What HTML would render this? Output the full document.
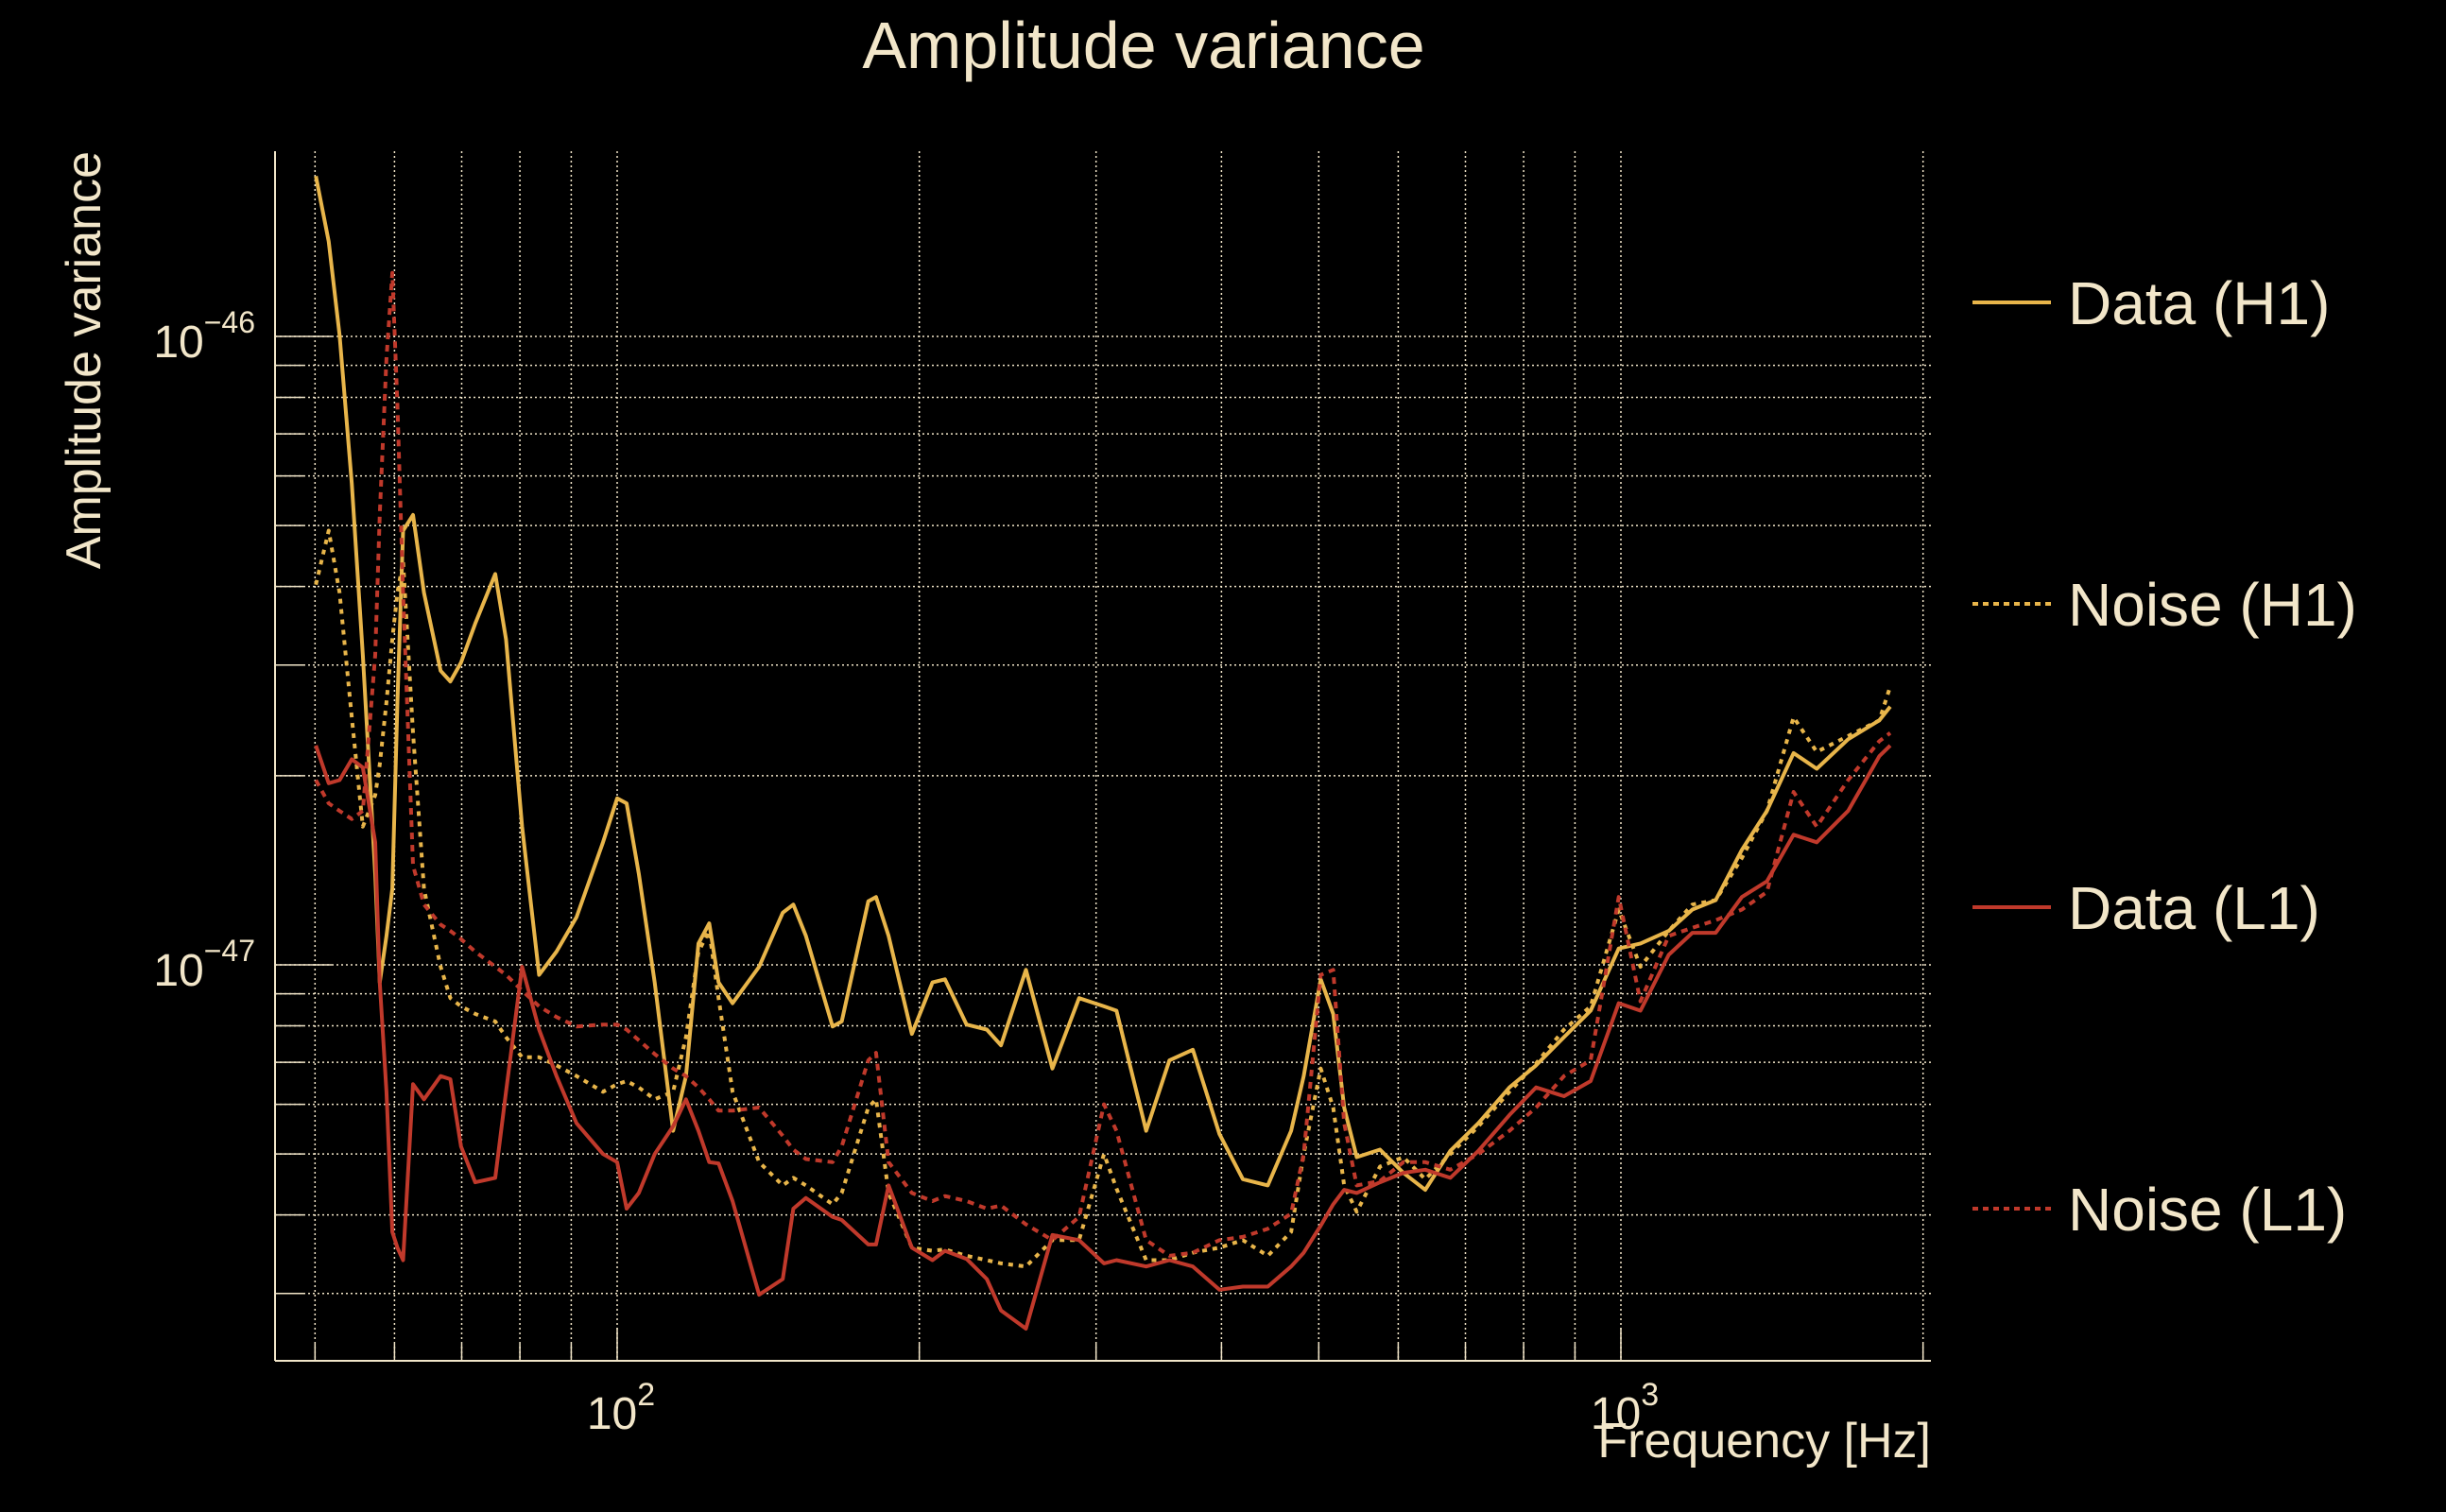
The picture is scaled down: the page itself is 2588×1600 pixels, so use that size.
<!DOCTYPE html>
<html><head><meta charset="utf-8"><style>
html,body{margin:0;padding:0;background:#000;}
svg{display:block;font-family:"Liberation Sans",sans-serif;}
</style></head><body>
<svg id="chart" width="2588" height="1600" viewBox="0 0 2588 1600" xmlns="http://www.w3.org/2000/svg">
<rect width="2588" height="1600" fill="#000"/>
<text x="1210" y="72" font-size="70" fill="#F2E6C9" text-anchor="middle">Amplitude variance</text>
<g id="grid"></g>
<g id="axes"></g>
<g id="series"></g>
<text transform="translate(106,160) rotate(-90)" font-size="52" fill="#F2E6C9" text-anchor="end">Amplitude variance</text>
<text x="2043" y="1542" font-size="52" fill="#F2E6C9" text-anchor="end">Frequency [Hz]</text>
<g id="legend"></g>
</svg>
<script>
// ---- data ----
const freqHz = [50.1,51.6,52.9,54.4,55.8,57.4,58.0,58.9,59.7,60.4,
61.2,62.6,64.2,66.7,68.2,69.9,72.2,75.6,77.5,
80.4,83.6,87.0,91.1,96.8,100,102.2,105.1,109.0,113.7,
117.1,120.5,123.5,126.2,130.3,138.5,146.2,149.8,154.2,163.9,167.4,
177.9,181.1,186.4,196.6,206.1,212.1,222.9,233.5,241.2,255.4,
271.4,288.5,305.5,314.4,336.5,355.0,374.6,398.1,420.1,444.8,
469.3,483.0,502.3,516.9,530.0,545.5,575.4,607.1,638.4,
676.1,721.1,774.5,823.1,877.6,933.0,
995,1046,1116,1178,1243,1320,1398,1486,1567,1684,1809,1855];
// log10 of amplitude variance
const dataH1 = [-45.745,-45.849,-45.998,-46.234,-46.507,-46.855,-47.028,-46.954,-46.879,-46.582,
-46.309,-46.284,-46.408,-46.532,-46.549,-46.519,-46.457,-46.378,-46.482,
-46.780,-47.016,-46.979,-46.924,-46.805,-46.735,-46.743,-46.855,-47.028,-47.264,
-47.177,-46.966,-46.934,-47.028,-47.061,-47.003,-46.917,-46.904,-46.954,-47.098,-47.090,
-46.899,-46.892,-46.954,-47.110,-47.028,-47.023,-47.095,-47.103,-47.128,-47.008,
-47.165,-47.053,-47.066,-47.073,-47.264,-47.152,-47.135,-47.269,-47.341,-47.351,
-47.264,-47.177,-47.023,-47.078,-47.227,-47.306,-47.294,-47.331,-47.358,
-47.296,-47.252,-47.195,-47.160,-47.115,-47.073,
-46.974,-46.966,-46.946,-46.912,-46.897,-46.817,-46.755,-46.663,-46.688,-46.641,-46.611,-46.589];
const noiseH1 = [-46.395,-46.309,-46.408,-46.606,-46.780,-46.730,-46.681,-46.582,-46.482,-46.408,
-46.358,-46.631,-46.879,-47.003,-47.053,-47.066,-47.078,-47.090,-47.115,
-47.147,-47.147,-47.160,-47.177,-47.202,-47.190,-47.185,-47.195,-47.214,-47.202,
-47.115,-46.979,-46.946,-47.053,-47.202,-47.314,-47.351,-47.339,-47.351,-47.381,-47.363,
-47.227,-47.214,-47.363,-47.450,-47.455,-47.453,-47.463,-47.470,-47.475,-47.480,
-47.438,-47.438,-47.301,-47.356,-47.470,-47.470,-47.458,-47.450,-47.438,-47.463,
-47.425,-47.301,-47.165,-47.227,-47.351,-47.393,-47.321,-47.306,-47.341,
-47.301,-47.257,-47.202,-47.157,-47.103,-47.066,
-46.912,-47.003,-46.946,-46.904,-46.897,-46.830,-46.755,-46.606,-46.661,-46.636,-46.611,-46.557];
const dataL1 = [-46.651,-46.711,-46.706,-46.673,-46.686,-46.805,-47.028,-47.202,-47.425,-47.450,
-47.470,-47.190,-47.214,-47.177,-47.182,-47.289,-47.346,-47.339,-47.202,
-47.003,-47.103,-47.177,-47.252,-47.301,-47.314,-47.388,-47.363,-47.301,-47.257,
-47.214,-47.264,-47.314,-47.316,-47.376,-47.525,-47.500,-47.388,-47.371,-47.401,-47.406,
-47.445,-47.445,-47.351,-47.450,-47.470,-47.455,-47.468,-47.500,-47.550,-47.579,
-47.430,-47.438,-47.475,-47.470,-47.480,-47.470,-47.480,-47.517,-47.512,-47.512,
-47.480,-47.458,-47.415,-47.381,-47.358,-47.363,-47.346,-47.331,-47.326,
-47.339,-47.296,-47.239,-47.195,-47.209,-47.185,
-47.061,-47.073,-46.984,-46.949,-46.949,-46.892,-46.867,-46.793,-46.805,-46.755,-46.668,-46.651];
const noiseL1 = [-46.706,-46.743,-46.755,-46.768,-46.755,-46.507,-46.284,-46.035,-45.899,-46.110,
-46.408,-46.842,-46.904,-46.936,-46.946,-46.959,-46.979,-47.003,-47.016,
-47.041,-47.066,-47.083,-47.098,-47.095,-47.095,-47.103,-47.120,-47.142,-47.165,
-47.177,-47.195,-47.214,-47.232,-47.232,-47.227,-47.272,-47.294,-47.309,-47.314,-47.289,
-47.152,-47.140,-47.314,-47.363,-47.376,-47.368,-47.376,-47.388,-47.383,-47.413,
-47.438,-47.401,-47.222,-47.264,-47.438,-47.463,-47.458,-47.438,-47.433,-47.420,
-47.396,-47.301,-47.016,-47.008,-47.252,-47.351,-47.344,-47.314,-47.314,
-47.326,-47.301,-47.264,-47.227,-47.177,-47.152,
-46.892,-47.058,-46.954,-46.941,-46.929,-46.912,-46.884,-46.725,-46.780,-46.706,-46.644,-46.631];
const xGridHz = [50,60,70,80,90,100,200,300,400,500,600,700,800,900,1000,2000];
const xMajorHz = [100,1000];
const xTickLabels = ["2","3"];
const yGridExp = [-47.523,-47.398,-47.301,-47.222,-47.155,-47.097,-47.046,-47,-46.699,-46.523,-46.398,-46.301,-46.222,-46.155,-46.097,-46.046,-46];
const yMajorExp = [-47,-46];
const yTickLabels = ["\u221247","\u221246"];
const seriesNames = ["Data (H1)","Noise (H1)","Data (L1)","Noise (L1)"];

// ---- axes ----
const L=291,R=2043,T=160,B=1440;
function xs(f){return 653+(Math.log10(f)-2)*1062;}
function ys(e){return 356+(-46-e)*665;}
const NS="http://www.w3.org/2000/svg";
function mk(tag,attrs,parent){const el=document.createElementNS(NS,tag);for(const k in attrs)el.setAttribute(k,attrs[k]);parent.appendChild(el);return el;}
const cream="#F2E6C9";
const grid=document.getElementById('grid'),axes=document.getElementById('axes'),ser=document.getElementById('series'),leg=document.getElementById('legend');

xGridHz.forEach(f=>{
  const x=xs(f);
  const g=mk('line',{x1:x,x2:x,y1:T,y2:B,stroke:cream,'stroke-width':1.5,'stroke-dasharray':'2 3'},grid);
  
  
  const major=xMajorHz.indexOf(f)>=0;
  const t=mk('line',{x1:x,x2:x,y1:B,y2:B-(major?35:18),stroke:cream,'stroke-width':1.5},axes);
  
  
});
yGridExp.forEach(e=>{
  const y=ys(e);
  const g=mk('line',{x1:L,x2:R,y1:y,y2:y,stroke:cream,'stroke-width':1.5,'stroke-dasharray':'2 3'},grid);
  
  
  const major=Math.abs(e-Math.round(e))<0.001;
  const t=mk('line',{x1:L,x2:L+(major?60:30),y1:y,y2:y,stroke:cream,'stroke-width':1.5},axes);
  
  
});
const sp1=mk('line',{x1:L,x2:L,y1:T,y2:B,stroke:cream,'stroke-width':2},axes);


const sp2=mk('line',{x1:L,x2:R,y1:B,y2:B,stroke:cream,'stroke-width':2},axes);



xMajorHz.forEach((f,i)=>{
  const tx=mk('text',{x:xs(f)+4,y:1512,'font-size':48,fill:cream,'text-anchor':'middle'},axes);
  
  
  tx.textContent='10';
  const s=mk('tspan',{dy:-25,'font-size':34},tx);s.textContent=xTickLabels[i];
});
yMajorExp.forEach((e,i)=>{
  const tx=mk('text',{x:270,y:ys(e)+22,'font-size':48,fill:cream,'text-anchor':'end'},axes);
  
  
  tx.textContent='10';
  const s=mk('tspan',{dy:-26,'font-size':32},tx);s.textContent=yTickLabels[i];
});

// ---- series ----
const allSeries=[dataH1,noiseH1,dataL1,noiseL1];
const colors=["#E8B54A","#E8B54A","#C0392B","#C0392B"];
const dashes=["none","5 6","none","7 6"];
const keys=["data-h1","noise-h1","data-l1","noise-l1"];
allSeries.forEach((vals,si)=>{
  const d=vals.map((v,i)=>(i?'L':'M')+xs(freqHz[i]).toFixed(1)+' '+ys(v).toFixed(1)).join(' ');
  const p=mk('path',{d:d,fill:'none',stroke:colors[si],'stroke-width':4,'stroke-linejoin':'round','stroke-dasharray':dashes[si]},ser);
  
  
});

// ---- legend ----
const legY=[320,639,960,1279];
seriesNames.forEach((n,i)=>{
  const g=mk('g',{},leg);
  
  
  mk('line',{x1:2087,x2:2170,y1:legY[i],y2:legY[i],stroke:colors[i],'stroke-width':4,'stroke-dasharray':dashes[i]==='none'?'none':'6 5'},g);
  const t=mk('text',{x:2188,y:legY[i]+23,'font-size':64,fill:cream},g);
  t.textContent=n;
});
</script>
</body></html>
